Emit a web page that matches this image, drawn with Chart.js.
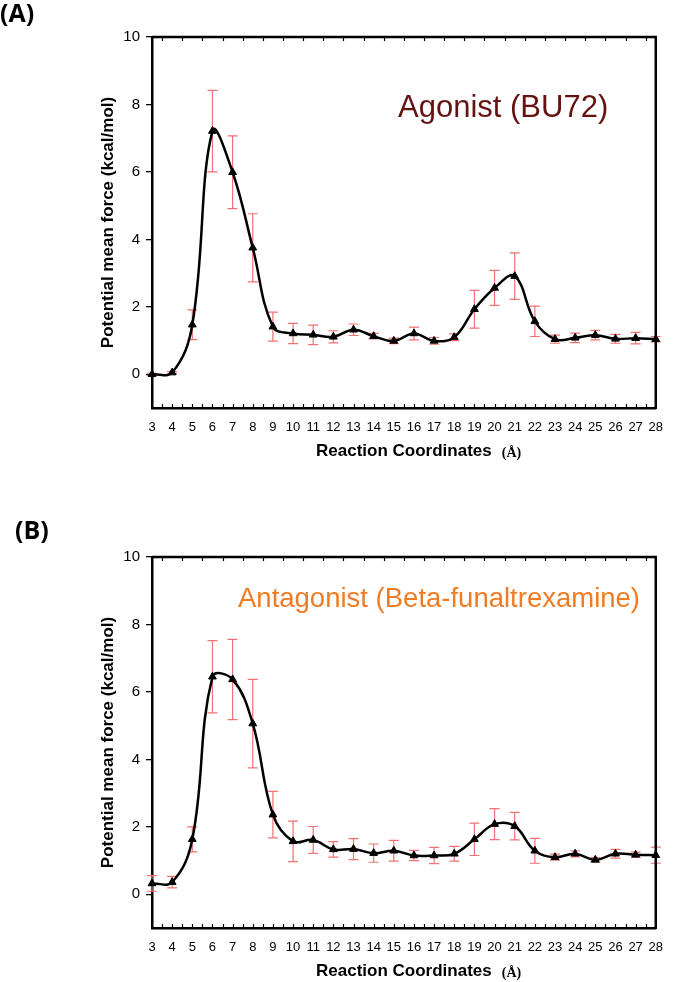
<!DOCTYPE html>
<html>
<head>
<meta charset="utf-8">
<script src="https://cdn.jsdelivr.net/npm/chart.js@4.4.1/dist/chart.umd.min.js"></script>
<style>
  body { margin: 0; background: #fff; width: 675px; height: 982px; position: relative; overflow: hidden; }
  .box { position: absolute; left: 0; width: 675px; }
</style>
</head>
<body>
<div class="box" style="top:0"><canvas id="chartA" width="675" height="470"></canvas></div>
<div class="box" style="top:490px"><canvas id="chartB" width="675" height="492"></canvas></div>
<script>
// reaction coordinate (Å)
const coords = [3, 4, 5, 6, 7, 8, 9, 10, 11, 12, 13, 14, 15, 16, 17, 18, 19, 20, 21, 22, 23, 24, 25, 26, 27, 28];

// (A) agonist BU72 - PMF and error
const agonistPmf = [0.0, 0.05, 1.47, 7.21, 5.99, 3.75, 1.41, 1.21, 1.17, 1.11, 1.32, 1.13, 0.99, 1.21, 0.99, 1.10, 1.93, 2.56, 2.91, 1.57, 1.04, 1.08, 1.16, 1.05, 1.07, 1.04];
const agonistErr = [0.03, 0.03, 0.44, 1.21, 1.08, 1.01, 0.43, 0.30, 0.29, 0.18, 0.17, 0.08, 0.08, 0.19, 0.10, 0.10, 0.56, 0.52, 0.69, 0.45, 0.12, 0.14, 0.14, 0.13, 0.17, 0.08];

// (B) antagonist beta-funaltrexamine
const antagonistPmf = [0.32, 0.36, 1.63, 6.45, 6.37, 5.06, 2.36, 1.57, 1.61, 1.33, 1.34, 1.22, 1.29, 1.15, 1.15, 1.20, 1.63, 2.08, 2.02, 1.29, 1.10, 1.20, 1.02, 1.20, 1.17, 1.16];
const antagonistErr = [0.23, 0.17, 0.37, 1.07, 1.19, 1.31, 0.69, 0.60, 0.40, 0.23, 0.31, 0.27, 0.31, 0.15, 0.24, 0.22, 0.48, 0.46, 0.41, 0.37, 0.09, 0.09, 0.07, 0.13, 0.08, 0.24];

const yTicks = [0, 2, 4, 6, 8, 10];

const SANS = '"Liberation Sans", Arial, sans-serif';

// error bars, box frame, inner ticks, labels
const decor = {
  id: 'decor',
  beforeDatasetsDraw(chart, args, opts) {
    const {ctx, scales: {x, y}} = chart;
    const pts = chart.data.datasets[0].data;
    ctx.save();
    ctx.strokeStyle = '#f07272';
    ctx.lineWidth = 1.2;
    pts.forEach((p, i) => {
      const e = opts.err[i];
      if (!e) return;
      const px = x.getPixelForValue(p.x);
      const t = y.getPixelForValue(p.y + e);
      const b = y.getPixelForValue(p.y - e);
      ctx.beginPath();
      ctx.moveTo(px, t); ctx.lineTo(px, b);
      ctx.moveTo(px - 5, t); ctx.lineTo(px + 5, t);
      ctx.moveTo(px - 5, b); ctx.lineTo(px + 5, b);
      ctx.stroke();
    });
    ctx.restore();
  },
  afterDraw(chart, args, opts) {
    const {ctx, chartArea: a, scales: {x}} = chart;
    ctx.save();
    // inside ticks on bottom and top
    ctx.strokeStyle = '#000';
    ctx.lineWidth = 1.2;
    ctx.beginPath();
    for (let v = x.min + 0.5; v < x.max; v += 0.5) {
      const px = Math.round(x.getPixelForValue(v)) + 0.5;
      ctx.moveTo(px, a.bottom); ctx.lineTo(px, a.bottom - 4);
      if (v % 1 !== 0) { ctx.moveTo(px, a.top); ctx.lineTo(px, a.top + 4); }
    }
    ctx.stroke();
    // top and right frame
    ctx.lineWidth = 2.5;
    ctx.beginPath();
    ctx.moveTo(a.left, a.top);
    ctx.lineTo(a.right, a.top);
    ctx.lineTo(a.right, a.bottom + 1);
    ctx.stroke();

    // unit after the x title
    ctx.font = 'bold 17px ' + SANS;
    const w = ctx.measureText('Reaction Coordinates').width;
    const ty = x.bottom - 17 * 1.2 / 2 - opts.titlePad;
    ctx.font = 'bold 14px "Liberation Serif", "Times New Roman", serif';
    ctx.fillStyle = '#000';
    ctx.textBaseline = 'middle';
    ctx.fillText('(Å)', (a.left + a.right) / 2 + w / 2 + 10, ty + 2);

    // panel letter
    ctx.textBaseline = 'alphabetic';
    ctx.font = 'bold 25px "Open Sans", sans-serif';
    ctx.fillText(opts.panel, opts.panelX, opts.panelY);

    // ligand name
    ctx.font = opts.noteSize + 'px ' + SANS;
    ctx.fillStyle = opts.noteColor;
    ctx.fillText(opts.note, opts.noteX, opts.noteY);
    ctx.restore();
  }
};

function makeChart(id, pmf, err, o) {
  const ctx = document.getElementById(id).getContext('2d');
  return new Chart(ctx, {
    type: 'line',
    data: {
      datasets: [{
        data: coords.map((c, i) => ({x: c, y: pmf[i]})),
        borderColor: '#000',
        backgroundColor: '#000',
        borderWidth: 2.5,
        tension: 0.4,
        pointStyle: 'triangle',
        pointRadius: 4.5,
        pointBackgroundColor: '#000',
        pointBorderColor: '#000',
        pointBorderWidth: 1,
        clip: false
      }]
    },
    options: {
      responsive: false,
      animation: false,
      events: [],
      layout: { padding: { top: o.padTop, left: 94, right: 8, bottom: 0 } },
      plugins: {
        legend: { display: false },
        tooltip: { enabled: false },
        decor: {
          err: err,
          titlePad: o.titlePad,
          panel: o.panel, panelX: o.panelX, panelY: o.panelY,
          note: o.note, noteX: o.noteX, noteY: o.noteY,
          noteSize: o.noteSize, noteColor: o.noteColor
        }
      },
      scales: {
        x: {
          type: 'linear',
          min: 3,
          max: 28,
          afterBuildTicks: s => { s.ticks = coords.map(v => ({value: v})); },
          afterFit: s => { s.height = o.xHeight; },
          grid: { drawOnChartArea: false, drawTicks: false },
          border: { display: true, color: '#000', width: 2.5 },
          ticks: { color: '#000', padding: 12, autoSkip: false, maxRotation: 0,
                   font: { family: SANS, size: 13 } },
          title: { display: true, text: 'Reaction Coordinates', color: '#000',
                   padding: { top: 0, bottom: o.titlePad },
                   font: { family: SANS, size: 17, weight: 'bold' } }
        },
        y: {
          min: -1,
          max: 10,
          afterBuildTicks: s => { s.ticks = yTicks.map(v => ({value: v})); },
          afterFit: s => { s.width = 58; },
          grid: { drawOnChartArea: false, drawTicks: true, tickLength: 6, color: '#000', lineWidth: 1.3 },
          border: { display: true, color: '#000', width: 2.5 },
          ticks: { color: '#000', padding: 6, font: { family: SANS, size: 15 } },
          title: { display: true, text: 'Potential mean force (kcal/mol)', color: '#000',
                   padding: { top: 4, bottom: 0 },
                   font: { family: SANS, size: 17, weight: 'bold' } }
        }
      }
    },
    plugins: [decor]
  });
}

makeChart('chartA', agonistPmf, agonistErr, {
  padTop: 37, xHeight: 62, titlePad: 8,
  panel: '(A)', panelX: 0, panelY: 22,
  note: 'Agonist (BU72)', noteX: 398, noteY: 117, noteSize: 31, noteColor: '#641212'
});

makeChart('chartB', antagonistPmf, antagonistErr, {
  padTop: 67, xHeight: 54, titlePad: 0,
  panel: '(B)', panelX: 15, panelY: 49,
  note: 'Antagonist (Beta-funaltrexamine)', noteX: 238, noteY: 117, noteSize: 27.5, noteColor: '#ef7b22'
});
</script>
</body>
</html>
